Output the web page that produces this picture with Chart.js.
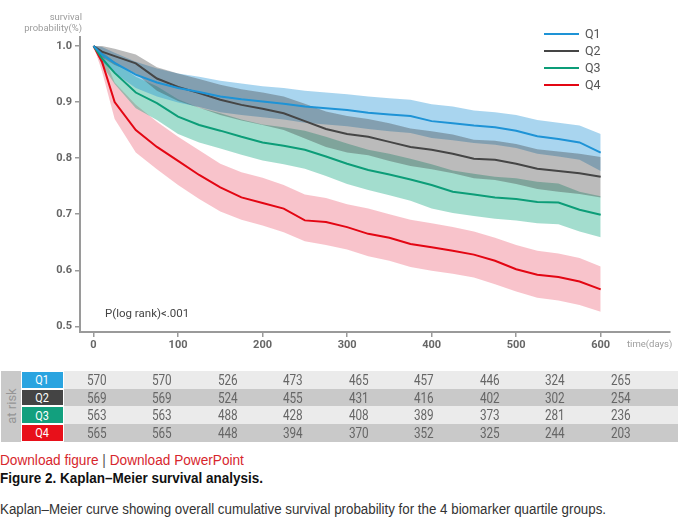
<!DOCTYPE html>
<html lang="en">
<head>
  <meta charset="UTF-8" />
  <title>Kaplan–Meier survival analysis</title>
  <script src="https://cdn.jsdelivr.net/npm/chart.js"></script>
  <style>
    body {
      margin: 0;
      background: #fff;
      font-family: Roboto, Arial, sans-serif;
    }
    #wrap {
      position: relative;
      width: 680px;
      height: 358px;
    }
    .note {
      position: absolute;
      white-space: nowrap;
    }
    #yTitle {
      left: 0;
      top: 11px;
      width: 82px;
      text-align: right;
      font-size: 9.5px;
      line-height: 11px;
      color: #9c9c9c;
    }
    #xTitle {
      left: 627px;
      top: 338px;
      font-size: 9.5px;
      color: #9c9c9c;
    }
    #pval {
      left: 105px;
      top: 306px;
      font-size: 11.5px;
      color: #444;
    }
    #legend {
      position: absolute;
      left: 544px;
      top: 25px;
    }
    .leg-row {
      height: 17px;
      display: flex;
      align-items: center;
      font-size: 12.5px;
      color: #555;
    }
    .leg-line {
      display: inline-block;
      width: 35px;
      height: 2px;
      margin-right: 6px;
    }
    #risk {
      position: absolute;
      left: 1px;
      top: 371px;
      border-collapse: collapse;
      font-family: Roboto, sans-serif;
    }
    #risk td {
      height: 17.7px;
      padding: 0;
      text-align: center;
      font-size: 14px;
      color: #666;
    }
    #risk td span.n {
      display: inline-block;
      transform: scaleX(0.84);
    }
    #risk td.side {
      width: 20px;
      background: #c9c9c9;
      position: relative;
    }
    #risk td.side span {
      position: absolute;
      left: 50%;
      top: 50%;
      transform: translate(-50%, -50%) rotate(-90deg);
      color: #959595;
      font-size: 13px;
      white-space: nowrap;
    }
    #risk td.grp {
      width: 43px;
      color: #fff;
      font-size: 13px;
      box-shadow: inset 0 0 0 1px #fff;
    }
    #risk td.num { width: 65.5px; }
    #risk td.pad { width: 24px; }
    #risk tr.light td.num, #risk tr.light td.pad { background: #ebebeb; }
    #risk tr.dark td.num, #risk tr.dark td.pad { background: #c9c9c9; }
    .narrow {
      font-family: Arial, "Liberation Sans", sans-serif;
      font-size: 15.5px;
      transform: scaleX(0.88);
      transform-origin: 0 0;
    }
    #links {
      left: 0;
      top: 451px;
      color: #d7262d;
    }
    #links .bar { color: #555; }
    #figTitle {
      left: 0;
      top: 469px;
      font-weight: bold;
      color: #111;
      transform: scaleX(0.87);
    }
    #caption {
      left: 0;
      top: 500px;
      color: #333;
      transform: scaleX(0.86);
    }
  </style>
</head>
<body>
  <div id="wrap">
    <canvas id="kmChart"></canvas>
    <div class="note" id="yTitle">survival<br>probability(%)</div>
    <div class="note" id="xTitle">time(days)</div>
    <div class="note" id="pval">P(log rank)&lt;.001</div>
    <div id="legend"></div>
  </div>

  <table id="risk"></table>

  <div class="note narrow" id="links">Download figure <span class="bar">|</span> Download PowerPoint</div>
  <div class="note narrow" id="figTitle">Figure 2. Kaplan–Meier survival analysis.</div>
  <div class="note narrow" id="caption">Kaplan–Meier curve showing overall cumulative survival probability for the 4 biomarker quartile groups.</div>

  <script>
    // time points (days)
    const days = [0, 10, 25, 50, 75, 100, 125, 150, 175, 200, 225, 250, 275, 300,
                  325, 350, 375, 400, 425, 450, 475, 500, 525, 550, 575, 600];

    const groups = ['Q1', 'Q2', 'Q3', 'Q4'];

    // survival estimates
    const q1 = [1.0, 0.985, 0.97, 0.949, 0.935, 0.925, 0.918, 0.91, 0.905, 0.901, 0.897, 0.892, 0.889, 0.886,
                0.881, 0.878, 0.875, 0.866, 0.862, 0.858, 0.855, 0.849, 0.839, 0.834, 0.828, 0.81];
    const q2 = [1.0, 0.99, 0.982, 0.969, 0.942, 0.927, 0.916, 0.904, 0.895, 0.888, 0.88, 0.866, 0.852, 0.843,
                0.838, 0.829, 0.82, 0.815, 0.808, 0.799, 0.797, 0.79, 0.781, 0.777, 0.773, 0.767];
    const q3 = [1.0, 0.978, 0.952, 0.917, 0.898, 0.874, 0.859, 0.849, 0.838, 0.828, 0.822, 0.815, 0.803, 0.79,
                0.779, 0.771, 0.762, 0.752, 0.74, 0.735, 0.73, 0.727, 0.722, 0.721, 0.708, 0.699];
    const q4 = [1.0, 0.972, 0.90, 0.85, 0.82, 0.795, 0.77, 0.748, 0.73, 0.72, 0.71, 0.689, 0.686, 0.677,
                0.665, 0.658, 0.647, 0.641, 0.635, 0.628, 0.617, 0.602, 0.592, 0.588, 0.58, 0.566];

    // confidence bands
    const q1Hi = [1.0, 0.998, 0.988, 0.972, 0.96, 0.951, 0.945, 0.938, 0.933, 0.928, 0.925, 0.92, 0.917, 0.914,
                  0.91, 0.907, 0.904, 0.896, 0.892, 0.885, 0.882, 0.877, 0.868, 0.863, 0.858, 0.843];
    const q1Lo = [1.0, 0.972, 0.952, 0.925, 0.91, 0.899, 0.891, 0.882, 0.877, 0.873, 0.869, 0.863, 0.86, 0.857,
                  0.852, 0.848, 0.845, 0.836, 0.832, 0.827, 0.824, 0.818, 0.808, 0.803, 0.797, 0.777];
    const q2Hi = [1.0, 1.0, 0.995, 0.985, 0.962, 0.951, 0.941, 0.931, 0.923, 0.917, 0.91, 0.897, 0.883, 0.875,
                  0.87, 0.862, 0.853, 0.848, 0.842, 0.833, 0.831, 0.825, 0.816, 0.812, 0.808, 0.802];
    const q2Lo = [1.0, 0.98, 0.966, 0.951, 0.92, 0.902, 0.89, 0.877, 0.867, 0.859, 0.85, 0.835, 0.82, 0.81,
                  0.805, 0.795, 0.786, 0.78, 0.773, 0.764, 0.761, 0.754, 0.745, 0.74, 0.736, 0.73];
    const q3Hi = [1.0, 0.99, 0.972, 0.945, 0.928, 0.905, 0.89, 0.88, 0.869, 0.86, 0.855, 0.849, 0.838, 0.826,
                  0.815, 0.808, 0.799, 0.789, 0.778, 0.772, 0.767, 0.764, 0.758, 0.755, 0.74, 0.732];
    const q3Lo = [1.0, 0.966, 0.932, 0.889, 0.868, 0.843, 0.828, 0.817, 0.806, 0.796, 0.789, 0.781, 0.768, 0.754,
                  0.743, 0.734, 0.724, 0.71, 0.702, 0.697, 0.692, 0.689, 0.684, 0.682, 0.669, 0.659];
    const q4Hi = [1.0, 0.99, 0.935, 0.895, 0.865, 0.838, 0.814, 0.79, 0.775, 0.765, 0.752, 0.735, 0.729, 0.718,
                  0.71, 0.70, 0.69, 0.684, 0.677, 0.669, 0.658, 0.645, 0.635, 0.63, 0.622, 0.607];
    const q4Lo = [1.0, 0.955, 0.87, 0.81, 0.78, 0.752, 0.727, 0.705, 0.69, 0.68, 0.668, 0.652, 0.645, 0.637,
                  0.625, 0.617, 0.606, 0.599, 0.594, 0.587, 0.575, 0.562, 0.551, 0.546, 0.538, 0.526];

    const xTicks = [0, 100, 200, 300, 400, 500, 600];
    const yTicks = [0.5, 0.6, 0.7, 0.8, 0.9, 1.0];

    // numbers at risk
    const riskQ1 = [570, 570, 526, 473, 465, 457, 446, 324, 265];
    const riskQ2 = [569, 569, 524, 455, 431, 416, 402, 302, 254];
    const riskQ3 = [563, 563, 488, 428, 408, 389, 373, 281, 236];
    const riskQ4 = [565, 565, 448, 394, 370, 352, 325, 244, 203];

    const lineColors = ['#1e93d6', '#454545', '#0c9d78', '#e30613'];
    const bandColors = ['rgba(30,144,214,0.38)', 'rgba(60,60,60,0.35)',
                        'rgba(0,160,120,0.36)', 'rgba(230,40,70,0.28)'];
    const tagColors = ['#2aa4e0', '#444444', '#12a07e', '#e8101a'];

    const pts = (ys) => ys.map((y, i) => ({ x: days[i], y: y }));

    const curves = [q1, q2, q3, q4];
    const bands = [[q1Hi, q1Lo], [q2Hi, q2Lo], [q3Hi, q3Lo], [q4Hi, q4Lo]];

    const datasets = [];
    curves.forEach((c, i) => {
      datasets.push({
        label: groups[i],
        data: pts(c),
        borderColor: lineColors[i],
        borderWidth: 2,
        pointRadius: 0,
        fill: false
      });
    });
    // gray band first so its fill lands on top of the others
    [1, 0, 2, 3].forEach(i => {
      datasets.push({
        label: groups[i] + ' upper',
        data: pts(bands[i][0]),
        borderColor: 'transparent',
        backgroundColor: bandColors[i],
        pointRadius: 0,
        fill: '+1'
      });
      datasets.push({
        label: groups[i] + ' lower',
        data: pts(bands[i][1]),
        borderColor: 'transparent',
        pointRadius: 0,
        fill: false
      });
    });

    const tickFont = { family: 'Roboto', size: 11, weight: 'bold' };

    new Chart(document.getElementById('kmChart'), {
      type: 'line',
      data: { datasets: datasets },
      options: {
        responsive: true,
        maintainAspectRatio: false,
        animation: false,
        layout: { padding: { top: 37, right: 10, left: 0, bottom: 0 } },
        plugins: {
          legend: { display: false },
          tooltip: { enabled: false }
        },
        elements: { line: { tension: 0 } },
        scales: {
          x: {
            type: 'linear',
            min: -16,
            max: 682,
            afterBuildTicks: s => { s.ticks = xTicks.map(v => ({ value: v })); },
            afterFit: s => { s.height = 26; },
            grid: { drawOnChartArea: false, drawTicks: true, tickLength: 5, color: '#9a9a9a', lineWidth: 1.5 },
            border: { display: true, color: '#9a9a9a', width: 2 },
            ticks: { font: tickFont, color: '#666', padding: 2, maxRotation: 0 }
          },
          y: {
            min: 0.49,
            max: 1.016,
            afterBuildTicks: s => { s.ticks = yTicks.map(v => ({ value: v })); },
            afterFit: s => { s.width = 80; },
            grid: { drawOnChartArea: false, drawTicks: true, tickLength: 5, color: '#9a9a9a', lineWidth: 1.5 },
            border: { display: true, color: '#9a9a9a', width: 2 },
            ticks: { font: tickFont, color: '#666', padding: 3, callback: v => v.toFixed(1) }
          }
        }
      }
    });

    // legend
    const legend = document.getElementById('legend');
    groups.forEach((g, i) => {
      const row = document.createElement('div');
      row.className = 'leg-row';
      row.innerHTML = `<span class="leg-line" style="background:${lineColors[i]}"></span>${g}`;
      legend.appendChild(row);
    });

    // at risk table
    const table = document.getElementById('risk');
    [riskQ1, riskQ2, riskQ3, riskQ4].forEach((r, i) => {
      const tr = document.createElement('tr');
      tr.className = i % 2 === 0 ? 'light' : 'dark';
      let html = '';
      if (i === 0) html += '<td class="side" rowspan="4"><span>at risk</span></td>';
      html += `<td class="grp" style="background:${tagColors[i]}"><span class="n">${groups[i]}</span></td>`;
      r.forEach(n => { html += `<td class="num"><span class="n">${n}</span></td>`; });
      html += '<td class="pad"></td>';
      tr.innerHTML = html;
      table.appendChild(tr);
    });
  </script>
</body>
</html>
